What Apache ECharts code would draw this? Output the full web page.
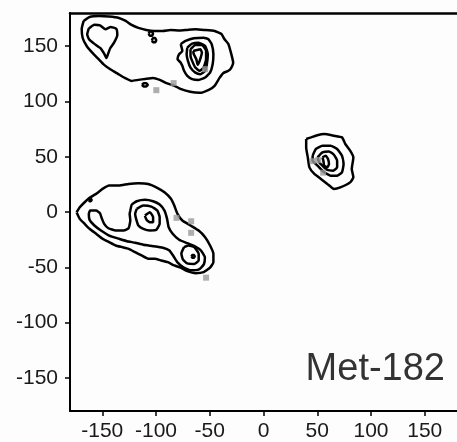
<!DOCTYPE html>
<html><head><meta charset="utf-8">
<script src="https://cdn.jsdelivr.net/npm/echarts@6/dist/echarts.min.js"></script>
<style>html,body{margin:0;padding:0;background:#fff}#c{width:457px;height:442px}</style>
</head><body><div id="c"></div>
<script>
const xTicks = [-150, -100, -50, 0, 50, 100, 150];
const yTicks = [-150, -100, -50, 0, 50, 100, 150];
const panelLabel = 'Met-182';

// contour polylines, [phi, psi]
const topOuter = [[-167.3,172.8],[-161.8,176.4],[-152.7,177.3],[-143.6,176.8],[-134.5,175.5],[-128.2,172.8],[-122.7,169.2],[-116.4,166.5],[-109.1,164.7],[-101.8,163.8],[-93.6,163.8],[-86.4,164.7],[-78,164.2],[-70.9,164.7],[-63,165.2],[-55.5,164.7],[-45.5,163.8],[-39.1,161],[-36.4,156.5],[-32.7,152],[-30,143],[-28.2,134.9],[-30,130.4],[-32.7,127.7],[-37.3,125.8],[-40.9,121.3],[-45.5,114.1],[-50.9,110.5],[-59.1,107.8],[-68.2,108.7],[-77.3,111.4],[-82.7,114.1],[-90.9,116.8],[-96.4,119.5],[-102.7,121.3],[-110,120.4],[-116.4,119.5],[-122.7,118.6],[-129.1,121.3],[-135.5,125],[-141.8,128.6],[-148.2,133.1],[-153.6,138.5],[-159.1,143.9],[-164.5,150.2],[-168.2,157.4],[-169.1,165.6]];
const topHeart = [[-162.5,166],[-157.3,169.3],[-152.1,168.8],[-147,165.3],[-142.1,167.3],[-137,165.8],[-136,160.1],[-139,153.2],[-142.6,148.1],[-144.5,143.3],[-146.1,139.2],[-148.2,143.3],[-151.5,148.1],[-157.6,152.3],[-162.3,156.2],[-164,160.7]];
const topLoopA = [[-106.8,161.3],[-105.8,163.2],[-103.8,163.2],[-102.8,161.3],[-103.8,159.4],[-105.8,159.4]];
const topLoopB = [[-103.8,155.4],[-102.8,157.3],[-100.8,157.3],[-99.8,155.4],[-100.8,153.5],[-102.8,153.5]];
const topLoopC = [[-113,115],[-111.5,116.4],[-109,116.4],[-107.6,115],[-109,113.6],[-111.5,113.6]];
const topPeak2 = [[-77,151.8],[-72.5,154.7],[-64.8,157.2],[-55.7,157.7],[-51.2,156.3],[-48.2,151.8],[-46.6,142.7],[-47.3,133.7],[-49.7,126.1],[-54.3,121.6],[-60.3,119.5],[-66.4,120.2],[-70.9,123.1],[-73.9,127.7],[-75.5,132.2],[-77,135.1],[-80,138.2],[-78.5,142.7],[-75.5,145.7]];
const topPeak3 = [[-70.9,148.7],[-66.4,152.3],[-60.3,153.2],[-54.3,150.2],[-51.8,142.7],[-52.7,133.7],[-54.3,127.7],[-58.8,124.7],[-63.4,126.1],[-67.9,130.6],[-70.3,136.7],[-71.5,142.7]];
const topPeak4 = [[-67.9,147.2],[-63.4,151.1],[-57.3,151.1],[-53.4,145.7],[-53.4,138.2],[-55.7,130.6],[-59.4,127.7],[-63.4,130.6],[-66.4,136.7],[-67.9,141.2]];
const topPeak5 = [[-65.5,145.7],[-58.8,147.2],[-57.3,144.2],[-59.4,136.7],[-61.2,133.1],[-62.5,138.2],[-64.8,142.7]];

const botOuter = [[-173.9,-0.2],[-170.9,4.3],[-166.4,8.8],[-161.8,12.8],[-155.7,16.4],[-149.7,20.9],[-143.6,23.9],[-134.5,23.9],[-125.5,25.4],[-116.4,26],[-107.3,25.4],[-99.7,22.3],[-92.1,17.8],[-86.1,11.9],[-83,5.8],[-80,-1.7],[-75.5,-7.7],[-67.9,-12.2],[-60.3,-16.8],[-54.3,-22.8],[-49.7,-30.3],[-46.6,-37.8],[-46.6,-45.4],[-49.7,-50.4],[-55.7,-54.4],[-63.4,-55.3],[-70.9,-53.5],[-77,-50.4],[-83,-48.3],[-89.1,-45.4],[-95.2,-43.8],[-101.2,-42.3],[-107.3,-42.3],[-113.4,-39.3],[-119.4,-36.3],[-125.5,-33.3],[-131.5,-31.8],[-137.5,-30.3],[-143.6,-27.3],[-149.7,-24.2],[-155.7,-19.7],[-161.8,-15.2],[-166.4,-10.7],[-170.9,-6.2]];
const botLevel2 = [[-123.9,1.3],[-122.5,6.7],[-117.9,9.7],[-110.3,11],[-102.7,9.7],[-96.6,6.7],[-92.1,1.3],[-89.7,-6.2],[-88.2,-13.8],[-84.5,-19.7],[-78.5,-25.1],[-70.9,-28.2],[-63.4,-31.2],[-58.2,-34.8],[-54.5,-41.1],[-55.5,-47.4],[-60,-51.9],[-67.3,-52.8],[-74.5,-50.1],[-80,-45.6],[-83.6,-40.2],[-87.5,-34.8],[-93.6,-32.4],[-102.7,-30.9],[-111.8,-29.6],[-119.4,-27.8],[-127,-26.4],[-134.5,-24.2],[-143.6,-21.3],[-151.2,-16.7],[-157.3,-12.2],[-161.8,-7.1],[-162.5,-1.7],[-161.2,1.3],[-155.7,1.3],[-152.1,-1.1],[-150.6,-5.3],[-148.2,-10.7],[-144.3,-14.7],[-137.5,-16.7],[-130,-16.7],[-125.5,-14.7],[-123.9,-7.7],[-124.5,-1.7]];
const botMid3 = [[-117.9,2.8],[-111.8,5.8],[-104.3,4.9],[-98.8,1.3],[-96.6,-4.7],[-96.6,-10.7],[-99.7,-16.1],[-105.7,-16.7],[-111.8,-15.2],[-116.4,-12.2],[-118.5,-6.2],[-119.4,-1.7]];
const botMid4 = [[-110.3,-3.2],[-105.7,-0.2],[-102.7,-4.7],[-102.7,-9.3],[-105.7,-9.3],[-108.8,-7.1]];
const botLow3 = [[-73.9,-31.8],[-70,-30.3],[-64.5,-31.6],[-60.3,-37.8],[-60.3,-43.8],[-64.5,-47],[-70.9,-46.5],[-75,-42.9],[-76.4,-37.5]];
const botLowDot = [[-67,-40.2],[-66.2,-39],[-64.8,-39],[-64,-40.2],[-64.8,-41.4],[-66.2,-41.4]];
const botLoop = [[-162.5,10.9],[-161.8,12],[-160.6,12],[-159.9,10.9],[-160.6,9.8],[-161.8,9.8]];

const rightOuter = [[39.7,66],[44.3,67.5],[50,69.4],[56.4,70.5],[65.5,69],[73,67.5],[76.1,61.5],[80.6,55.5],[83.6,49.4],[82.1,38.9],[83.6,31.4],[80.6,26.8],[71.5,22.3],[65.5,20.9],[59.4,25.4],[53.4,29.9],[47.3,34.4],[42.7,40.4],[41.2,49.4],[39.7,58.4]];
const right2 = [[45.7,50.9],[48.8,57],[54.8,60],[62.5,60],[68.5,57],[73,50.9],[74.5,43.5],[73,35.9],[68.5,32.9],[62.5,32.9],[56.4,35.9],[50.3,41.9],[45.7,46.4]];
const right3 = [[50.3,49.4],[54.8,53.9],[60.9,54.8],[65.5,51.8],[68.5,46.4],[68.5,40.4],[64.8,37.4],[59.4,38],[54.8,41.9],[51.8,44.9]];
const right4 = [[54.8,49.4],[57.9,50.9],[60,48],[60.9,43.5],[59.4,40.4],[56.4,41.9],[55.7,46.4]];

const contours = [topOuter, topHeart, topLoopA, topLoopB, topLoopC, topPeak2, topPeak3, topPeak4, topPeak5,
  botOuter, botLevel2, botMid3, botMid4, botLow3, botLowDot, botLoop,
  rightOuter, right2, right3, right4];

// grey markers
const markPhi = [-99.7, -83.6, -54.3, -80.9, -67.3, -67.3, -53.4, 45.7, 50.9, 55.5];
const markPsi = [110.2, 116.6, 129.2, -5.3, -8.4, -18.8, -59.4, 46, 46.9, 35.6];

const chart = echarts.init(document.getElementById('c'), null, {renderer: 'canvas'});
const labelStyle = {color: '#1a1a1a', fontSize: 21, fontFamily: 'Liberation Sans, Arial, sans-serif'};
const series = contours.map(c => ({
  type: 'line', data: c.concat([c[0]]), showSymbol: false, symbol: 'none', smooth: 0.15,
  lineStyle: {color: '#000', width: 2.5}, silent: true, z: 2
}));
series.push({
  type: 'scatter', data: markPhi.map((p, i) => [p, markPsi[i]]), symbol: 'rect', symbolSize: 6,
  itemStyle: {color: '#9a9a9a'}, z: 5, silent: true
});
chart.setOption({
  animation: false,
  backgroundColor: '#fdfdfd',
  grid: {left: 70, top: 13, right: -9, bottom: 31},
  xAxis: [{
    type: 'value', min: -180, max: 180, position: 'bottom',
    axisLine: {show: true, onZero: false, lineStyle: {color: '#000', width: 2}},
    axisTick: {show: true, length: 5, customValues: xTicks, lineStyle: {color: '#000', width: 1.5}},
    axisLabel: Object.assign({margin: 10, customValues: xTicks}, labelStyle),
    splitLine: {show: false}
  }, {
    type: 'value', min: -180, max: 180, position: 'top',
    axisLine: {show: true, onZero: false, lineStyle: {color: '#000', width: 2.5}},
    axisTick: {show: false}, axisLabel: {show: false}, splitLine: {show: false}
  }],
  yAxis: [{
    type: 'value', min: -180, max: 180, position: 'left',
    axisLine: {show: true, onZero: false, lineStyle: {color: '#000', width: 2}},
    axisTick: {show: true, length: 5, customValues: yTicks, lineStyle: {color: '#000', width: 1.5}},
    axisLabel: Object.assign({margin: 12, customValues: yTicks}, labelStyle),
    splitLine: {show: false}
  }],
  series: series,
  graphic: [{
    type: 'text', x: 445, y: 370, z: 10,
    style: {text: panelLabel, fill: '#333', fontSize: 38, fontFamily: 'Liberation Sans, Arial, sans-serif', align: 'right', verticalAlign: 'middle'}
  }]
});
</script></body></html>
